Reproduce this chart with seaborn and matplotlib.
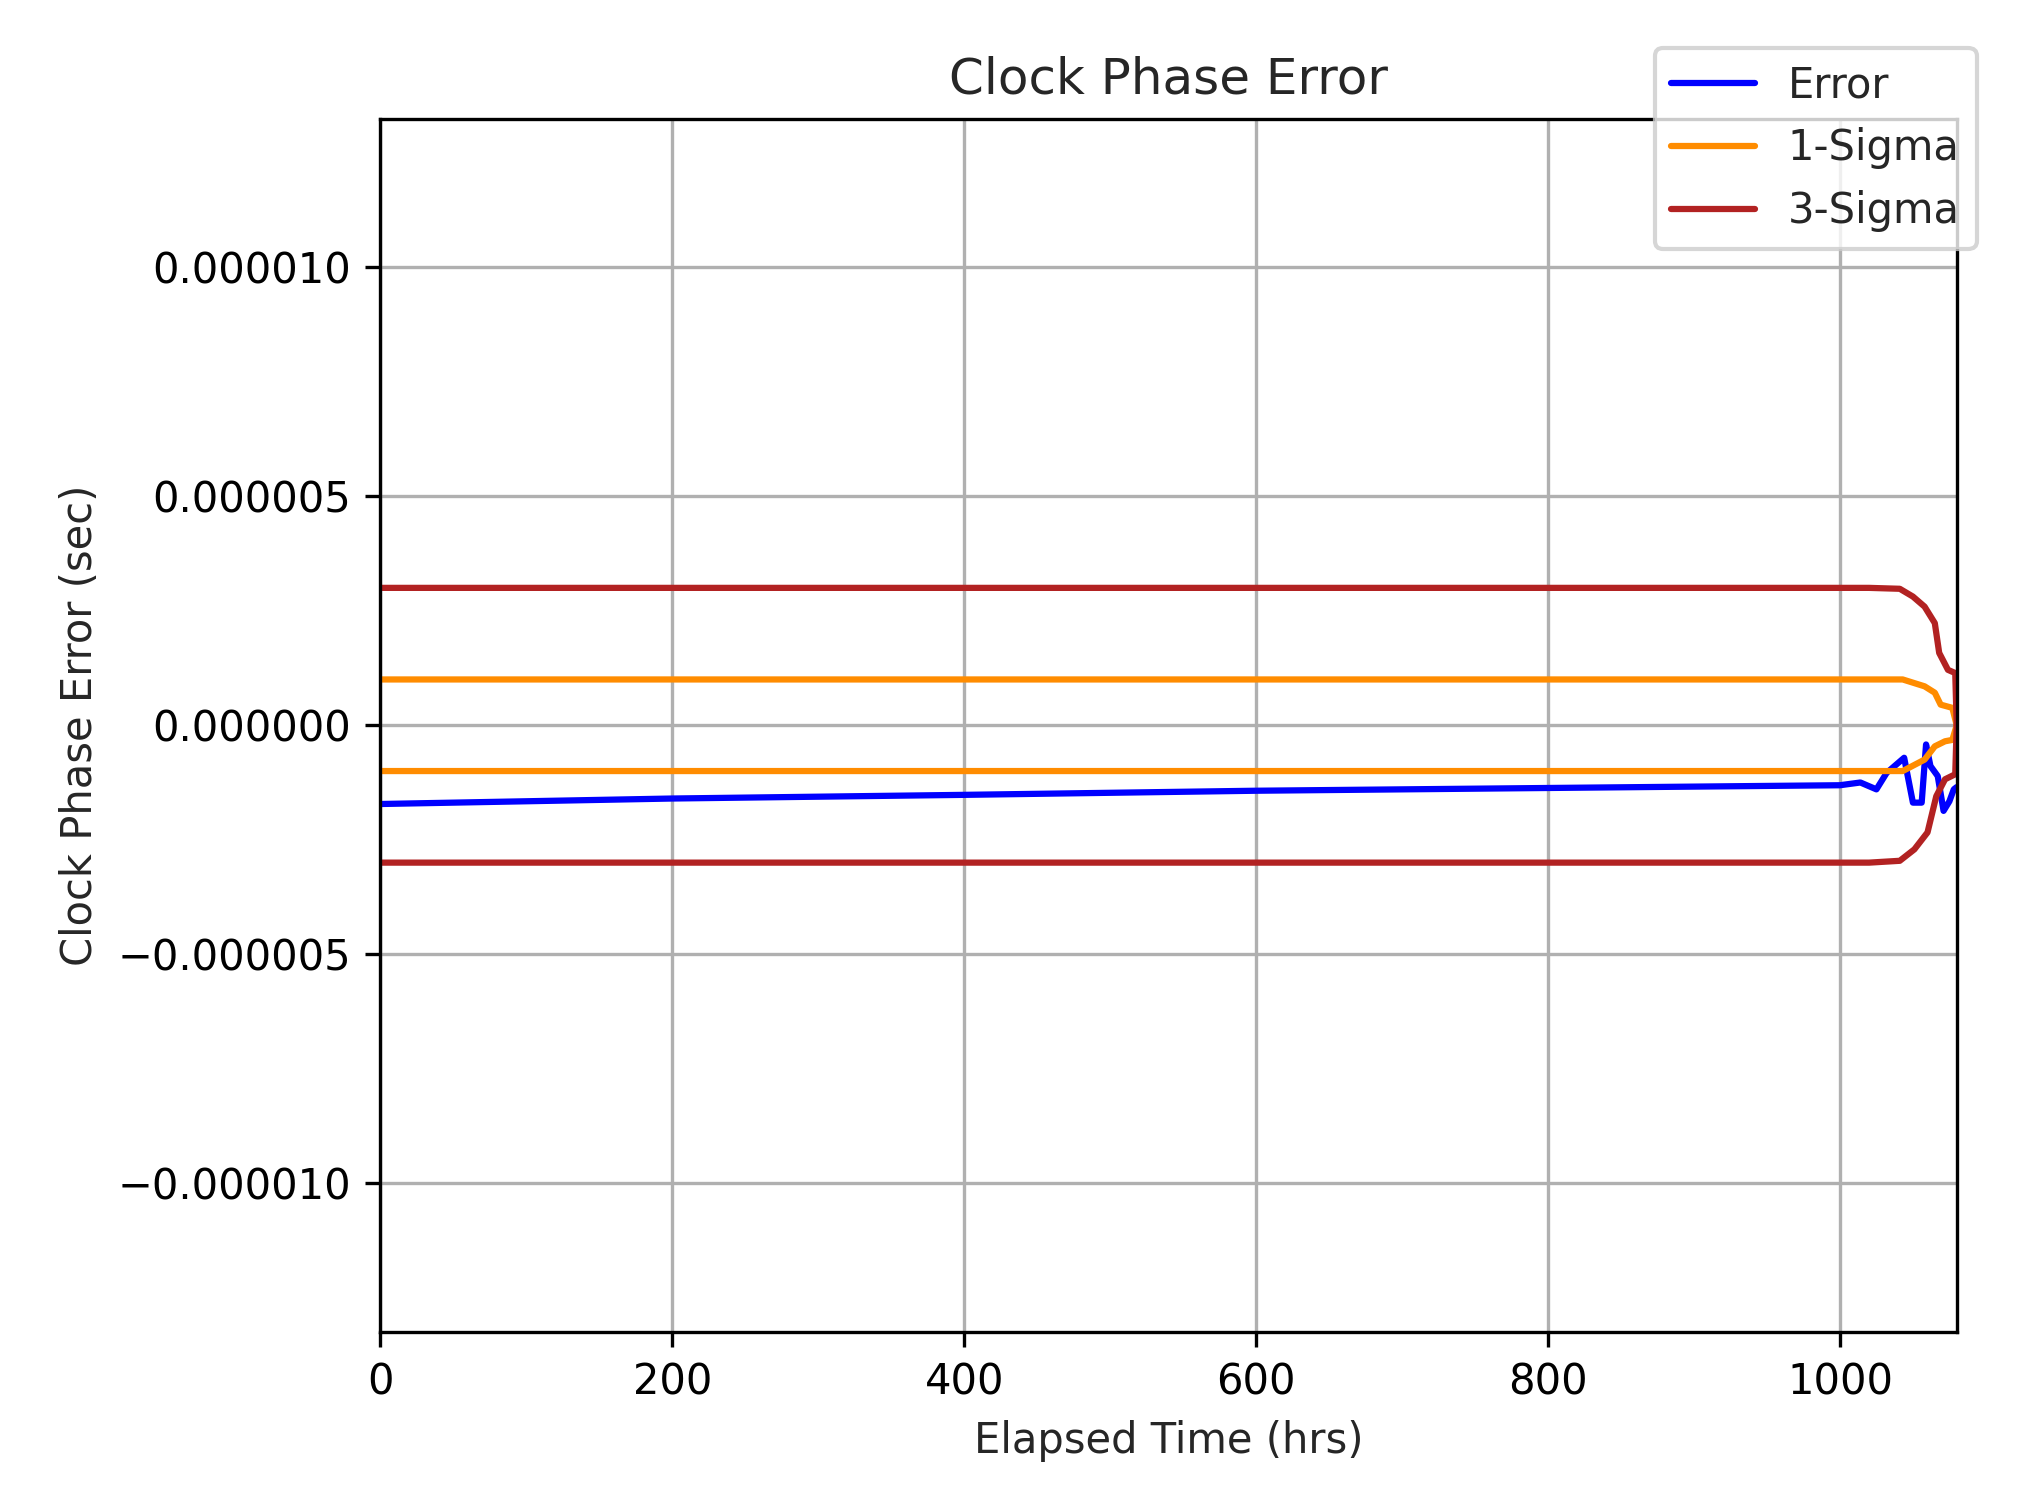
import matplotlib
matplotlib.use("Agg")
import matplotlib.pyplot as plt
import pandas as pd
import seaborn as sns

# Data (hours, seconds)
err_t = [0, 200, 400, 600, 800, 1000, 1014, 1025, 1032, 1044, 1050, 1056, 1059, 1062, 1067, 1071, 1075, 1078, 1080]
err_v = [-1.72, -1.60, -1.52, -1.43, -1.37, -1.31, -1.25, -1.40, -1.04, -0.71, -1.69, -1.69, -0.42, -0.89, -1.11,
         -1.87, -1.66, -1.40, -1.35]

s3u_t = [0, 1020, 1041, 1050, 1058, 1065, 1068, 1074, 1079, 1080]
s3u_v = [3.0, 3.0, 2.98, 2.81, 2.59, 2.23, 1.58, 1.21, 1.14, 0.0]
s3l_t = [0, 1020, 1041, 1051, 1060, 1066, 1072, 1079, 1080]
s3l_v = [-3.0, -3.0, -2.96, -2.71, -2.34, -1.55, -1.18, -1.07, 0.0]

s1u_t = [0, 1043, 1058, 1065, 1069, 1077, 1080]
s1u_v = [1.0, 1.0, 0.85, 0.71, 0.45, 0.38, 0.0]
s1l_t = [0, 1043, 1058, 1065, 1072, 1077, 1080]
s1l_v = [-1.0, -1.0, -0.75, -0.46, -0.35, -0.32, 0.0]

sns.set_style("ticks")
plt.rcParams["font.family"] = ["DejaVu Sans"]

fig = plt.figure(figsize=(6.78, 5), dpi=300)
ax = fig.add_axes([0.187, 0.112, 0.775, 0.809])
ax.grid(True, color="#b0b0b0", linewidth=0.8)
ax.set_axisbelow(True)

def series(t, v):
    return pd.DataFrame({"t": t, "v": [x * 1e-6 for x in v]})

lw = 1.5
sns.lineplot(data=series(err_t, err_v), x="t", y="v", ax=ax, color="blue", lw=lw, label="Error")
sns.lineplot(data=series(s1u_t, s1u_v), x="t", y="v", ax=ax, color="darkorange", lw=lw, label="1-Sigma")
sns.lineplot(data=series(s1l_t, s1l_v), x="t", y="v", ax=ax, color="darkorange", lw=lw)
sns.lineplot(data=series(s3u_t, s3u_v), x="t", y="v", ax=ax, color="firebrick", lw=lw, label="3-Sigma")
sns.lineplot(data=series(s3l_t, s3l_v), x="t", y="v", ax=ax, color="firebrick", lw=lw)

ax.set_xlim(0, 1080)
ax.set_ylim(-1.325e-5, 1.325e-5)
ax.set_yticks([-1e-5, -5e-6, 0, 5e-6, 1e-5])
ax.set_yticklabels(["\u22120.000010", "\u22120.000005", "0.000000", "0.000005", "0.000010"])
ax.set_xlabel("Elapsed Time (hrs)")
ax.set_ylabel("Clock Phase Error (sec)")
ax.set_title("Clock Phase Error", fontsize=12)
for s in ax.spines.values():
    s.set_color("black")
ax.tick_params(colors="black")

handles, labels = ax.get_legend_handles_labels()
ax.get_legend().remove()
fig.legend(handles, labels, loc="upper right", bbox_to_anchor=(0.982, 0.982))

fig.savefig("out.png", dpi=300)
